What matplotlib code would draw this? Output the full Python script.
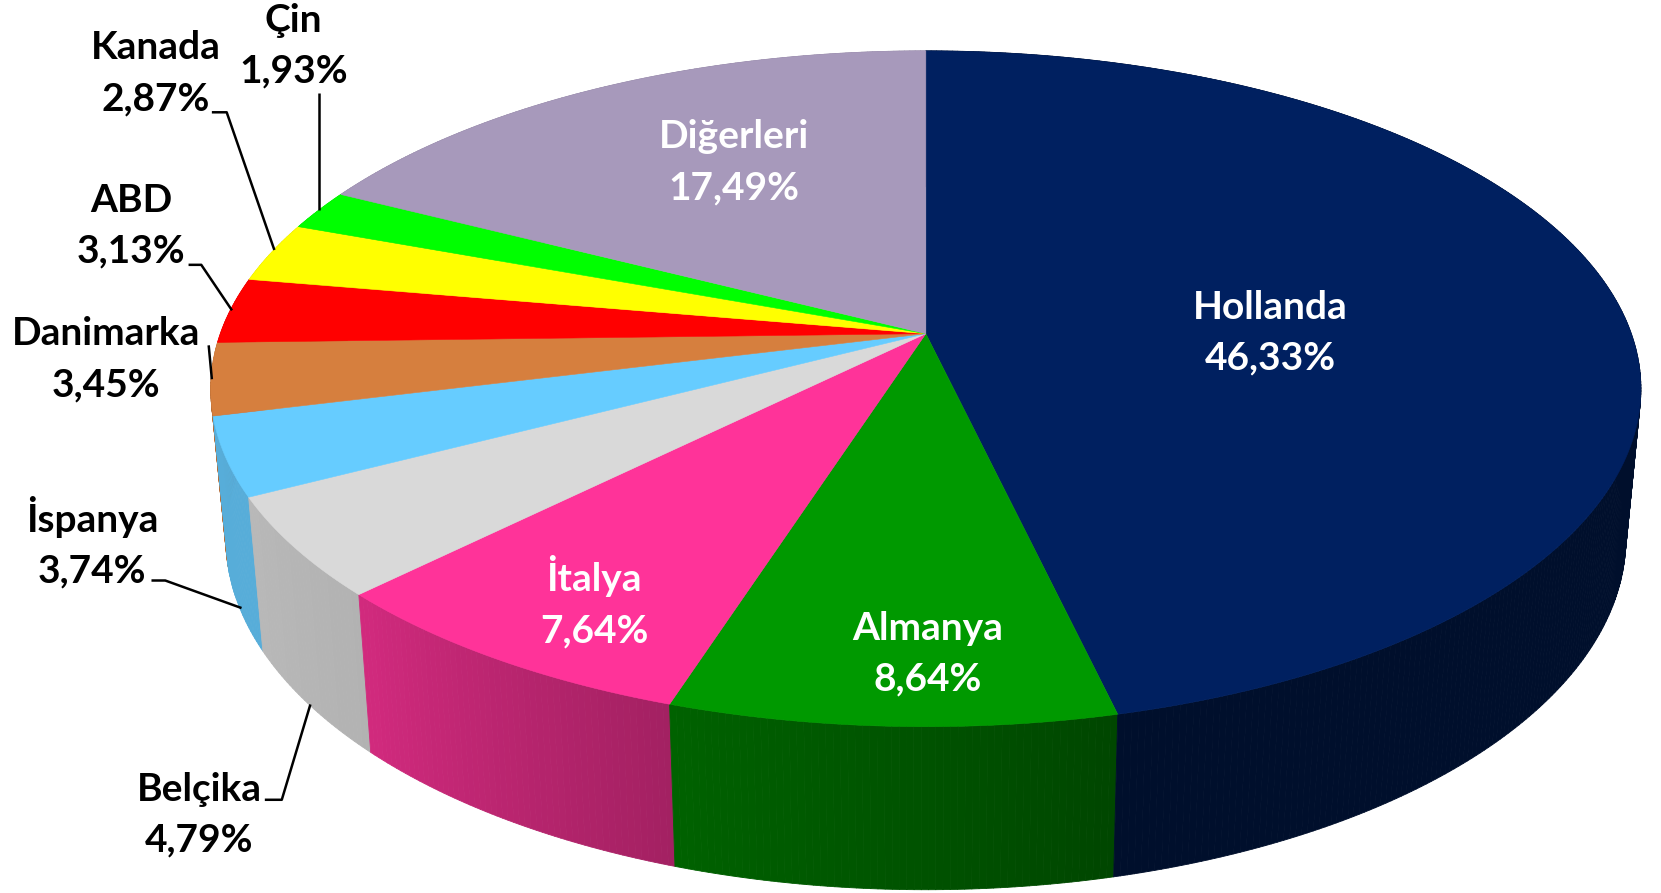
import numpy as np
import matplotlib
matplotlib.use('Agg')
import matplotlib.pyplot as plt
from matplotlib.collections import PolyCollection

# Slices, clockwise from 12 o'clock
names = ['Hollanda', 'Almanya', 'İtalya', 'Belçika', 'İspanya', 'Danimarka', 'ABD', 'Kanada', 'Çin', 'Diğerleri']
shares = [46.33, 8.64, 7.64, 4.79, 3.74, 3.45, 3.13, 2.87, 1.93, 17.49]
colors = ['#002060', '#009900', '#FF3399', '#D9D9D9', '#66CCFF', '#D67F3E', '#FF0000', '#FFFF00', '#00FF00', '#A799BB']
text_colors = ['white', 'white', 'white', 'black', 'black', 'black', 'black', 'black', 'black', 'white']

# Layout is measured on the 1568 px wide preview
S = 1661 / 1568
label_pos = [(1199, 314), (876, 617), (561, 568), (188, 769), (87, 512),
             (100, 339), (124, 213), (147, 69), (277, 43), (693, 153)]
leaders = [
    [(301, 88), (301, 198)],
    [(200, 106), (214, 106), (259, 236)],
    [(178, 250), (190, 250), (219, 293)],
    [(197, 326), (200, 358)],
    [(143, 548), (156, 548), (228, 574)],
    [(250, 755), (266, 755), (293, 665)],
]

# Perspective of the disc
K = 0.163
CX = 874
TOP_A, TOP_B, TOP_C = 666, 310.5, 315
BOT_A, BOT_B, BOT_C = 652, 323, 454

# Wall darkening by angle
shade_angle = [0, 166.8, 198, 225, 243, 360]
shade_value = [0.46, 0.46, 0.64, 0.82, 0.85, 0.85]


def project(theta, a, b, c):
    t = np.radians(theta)
    w = 1 + K * np.cos(t)
    x = CX + a * np.sin(t) / w
    y = c - b * np.cos(t) / w
    return np.column_stack([x * S, y * S])


def darken(color, f):
    r, g, b = matplotlib.colors.to_rgb(color)
    return (r * f, g * f, b * f)


plt.rcParams['font.family'] = ['Lato', 'DejaVu Sans']
fig = plt.figure(figsize=(16.61, 8.93), dpi=100)
ax = fig.add_axes([0, 0, 1, 1])
ax.set_xlim(0, 1661)
ax.set_ylim(893, 0)
ax.axis('off')

edges = np.cumsum([0] + shares) / sum(shares) * 360

# side walls back to front, the top face covers what is behind it
for i in range(len(colors) - 1, -1, -1):
    col = colors[i]
    n = max(int((edges[i + 1] - edges[i]) * 2), 2)
    th = np.linspace(edges[i], edges[i + 1], n + 1)
    top = project(th, TOP_A, TOP_B, TOP_C)
    bot = project(th, BOT_A, BOT_B, BOT_C)
    quads = []
    quad_cols = []
    for j in range(n):
        quads.append([top[j], top[j + 1], bot[j + 1], bot[j]])
        quad_cols.append(darken(col, np.interp((th[j] + th[j + 1]) / 2, shade_angle, shade_value)))
    ax.add_collection(PolyCollection(quads, facecolors=quad_cols, edgecolors=quad_cols, linewidths=0.6))

# top face
apex = (CX * S, TOP_C * S)
for i, col in enumerate(colors):
    th = np.linspace(edges[i], edges[i + 1], 200)
    rim = project(th, TOP_A, TOP_B, TOP_C)
    ax.fill(np.r_[apex[0], rim[:, 0]], np.r_[apex[1], rim[:, 1]], color=col, lw=0.4)

for pts in leaders:
    xs = [p[0] * S for p in pts]
    ys = [p[1] * S for p in pts]
    ax.plot(xs, ys, color='black', lw=1.8, solid_capstyle='butt')

for name, share, pos, tc in zip(names, shares, label_pos, text_colors):
    label = name + '\n' + f'{share:.2f}%'.replace('.', ',')
    ax.text(pos[0] * S, pos[1] * S, label, color=tc, fontsize=28, fontweight='bold',
            ha='center', va='center', linespacing=1.55)

fig.savefig('out.png', dpi=100)
